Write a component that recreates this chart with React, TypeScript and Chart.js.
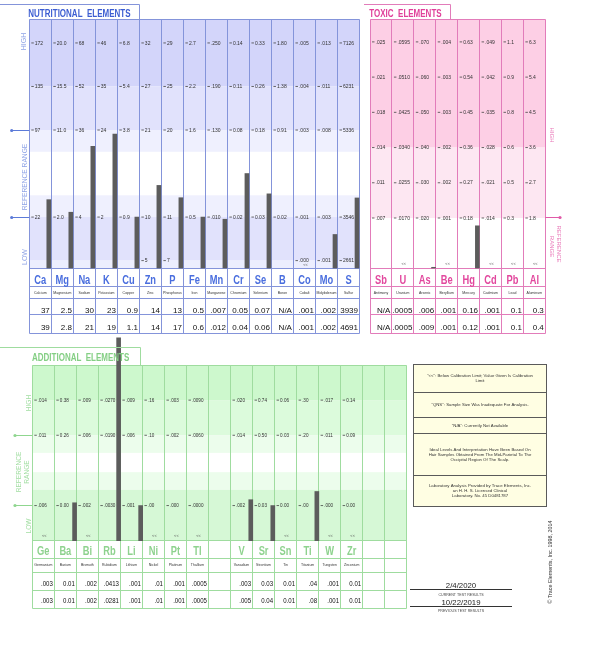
import React, { useEffect, useRef } from "react";
import { Chart, registerables } from "chart.js";
Chart.register(...registerables);

// ================= NUTRITIONAL ELEMENTS =================
const nutriSymbols = ["Ca", "Mg", "Na", "K", "Cu", "Zn", "P", "Fe", "Mn", "Cr", "Se", "B", "Co", "Mo", "S"];
const nutriNames = ["Calcium", "Magnesium", "Sodium", "Potassium", "Copper", "Zinc", "Phosphorus", "Iron", "Manganese", "Chromium", "Selenium", "Boron", "Cobalt", "Molybdenum", "Sulfur"];
const nutriTick5 = ["172", "20.0", "68", "46", "6.8", "32", "29", "2.7", ".250", "0.14", "0.33", "1.80", ".005", ".013", "7126"];
const nutriTick4 = ["135", "15.5", "52", "35", "5.4", "27", "25", "2.2", ".190", "0.11", "0.26", "1.38", ".004", ".011", "6231"];
const nutriTick3 = ["97", "11.0", "36", "24", "3.8", "21", "20", "1.6", ".130", "0.08", "0.18", "0.91", ".003", ".008", "5336"];
const nutriTick1 = ["22", "2.0", "4", "2", "0.9", "10", "11", "0.5", ".010", "0.02", "0.03", "0.02", ".001", ".003", "3546"];
const nutriTick0 = [null, null, null, null, null, "5", "7", null, null, null, null, null, ".000", ".001", "2661"];
const nutriCurrent = ["37", "2.5", "30", "23", "0.9", "14", "13", "0.5", ".007", "0.05", "0.07", "N/A", ".001", ".002", "3939"];
const nutriPrevious = ["39", "2.8", "21", "19", "1.1", "14", "17", "0.6", ".012", "0.04", "0.06", "N/A", ".001", ".002", "4691"];
const nutriBelowLimit = [false, false, false, false, false, false, false, false, false, false, false, false, true, false, false];

// ================= TOXIC ELEMENTS =================
const toxicSymbols = ["Sb", "U", "As", "Be", "Hg", "Cd", "Pb", "Al"];
const toxicNames = ["Antimony", "Uranium", "Arsenic", "Beryllium", "Mercury", "Cadmium", "Lead", "Aluminum"];
const toxicTick5 = [".025", ".0595", ".070", ".004", "0.63", ".049", "1.1", "6.3"];
const toxicTick4 = [".021", ".0510", ".060", ".003", "0.54", ".042", "0.9", "5.4"];
const toxicTick3 = [".018", ".0425", ".050", ".003", "0.45", ".035", "0.8", "4.5"];
const toxicTick2 = [".014", ".0340", ".040", ".002", "0.36", ".028", "0.6", "3.6"];
const toxicTick1 = [".011", ".0255", ".030", ".002", "0.27", ".021", "0.5", "2.7"];
const toxicTick0 = [".007", ".0170", ".020", ".001", "0.18", ".014", "0.3", "1.8"];
const toxicCurrent = ["N/A", ".0005", ".006", ".001", "0.16", ".001", "0.1", "0.3"];
const toxicPrevious = ["N/A", ".0005", ".009", ".001", "0.12", ".001", "0.1", "0.4"];
const toxicBelowLimit = [false, true, false, true, false, true, true, true];

// ================= ADDITIONAL ELEMENTS =================
const addSymbols = ["Ge", "Ba", "Bi", "Rb", "Li", "Ni", "Pt", "Tl", "", "V", "Sr", "Sn", "Ti", "W", "Zr", "", ""];
const addNames = ["Germanium", "Barium", "Bismuth", "Rubidium", "Lithium", "Nickel", "Platinum", "Thallium", "", "Vanadium", "Strontium", "Tin", "Titanium", "Tungsten", "Zirconium", "", ""];
const addTick4 = [".014", "0.38", ".009", ".0270", ".009", ".16", ".003", ".0090", null, ".020", "0.74", "0.06", ".30", ".017", "0.14", null, null];
const addTick3 = [".011", "0.26", ".006", ".0190", ".006", ".10", ".002", ".0060", null, ".014", "0.50", "0.03", ".20", ".011", "0.09", null, null];
const addTick1 = [".006", "0.00", ".002", ".0030", ".001", ".00", ".000", ".0000", null, ".002", "0.03", "0.00", ".00", ".000", "0.00", null, null];
const addCurrent = [".003", "0.01", ".002", ".0413", ".001", ".01", ".001", ".0005", "", ".003", "0.03", "0.01", ".04", ".001", "0.01", "", ""];
const addPrevious = [".003", "0.01", ".002", ".0281", ".001", ".01", ".001", ".0005", "", ".005", "0.04", "0.01", ".08", ".001", "0.01", "", ""];
const addBelowLimit = [true, false, true, false, false, true, true, true, false, false, false, true, false, true, true, false, false];

// ================= NOTES / DATES =================
const noteRows = [
  ["\"<<\": Below Calibration Limit; Value Given Is Calibration", "Limit"],
  ["\"QNS\": Sample Size Was Inadequate For Analysis."],
  ["\"N/A\": Currently Not Available"],
  ["Ideal Levels And Interpretation Have Been Based On", "Hair Samples Obtained From The Mid-Parietal To The", "Occipital Region Of The Scalp."],
  ["Laboratory Analysis Provided by Trace Elements, Inc.", "an H. H. S. Licensed Clinical", "Laboratory. No. 45 D0481787"],
];
const currentDate = "2/4/2020";
const previousDate = "10/22/2019";
const copyright = "\u00A9 Trace Elements, Inc. 1998, 2014";

// ---------------- helpers ----------------
const num = (s: string | null) => (s == null ? NaN : parseFloat(s));
const FONT = 'Arial, "Liberation Sans", sans-serif';

function txt(ctx: CanvasRenderingContext2D, s: string, x: number, y: number, o: any) {
  ctx.save();
  ctx.translate(x, y);
  if (o.rot) ctx.rotate(o.rot);
  if (o.sx) ctx.scale(o.sx, 1);
  ctx.font = `${o.bold ? "bold " : ""}${o.size}px ${FONT}`;
  ctx.fillStyle = o.color || "#222";
  ctx.textAlign = o.align || "left";
  ctx.textBaseline = o.base || "alphabetic";
  ctx.fillText(s, 0, 0);
  ctx.restore();
}
function seg(ctx: CanvasRenderingContext2D, x1: number, y1: number, x2: number, y2: number) {
  ctx.beginPath();
  ctx.moveTo(x1, y1);
  ctx.lineTo(x2, y2);
  ctx.stroke();
}
const snap = (v: number) => Math.round(v - 0.5) + 0.5;
function dotLine(ctx: CanvasRenderingContext2D, x1: number, x2: number, y: number, color: string, dotX: number) {
  ctx.save();
  ctx.strokeStyle = color;
  ctx.fillStyle = color;
  ctx.lineWidth = 1;
  seg(ctx, x1, snap(y), x2, snap(y));
  ctx.beginPath();
  ctx.arc(dotX, snap(y), 1.6, 0, Math.PI * 2);
  ctx.fill();
  ctx.restore();
}

// bar levels (common level scale) derived from results and each column's own ticks
const nutriLevels = nutriCurrent.map((s, i) => {
  const v = num(s);
  if (isNaN(v) || nutriBelowLimit[i]) return null;
  const lo = num(nutriTick1[i]);
  const hi = num(nutriTick5[i]);
  return 1 + (v - lo) / ((hi - lo) / 4);
});
const toxicLevels = toxicCurrent.map((s, i) => {
  const v = num(s);
  if (isNaN(v) || toxicBelowLimit[i]) return null;
  const lo = num(toxicTick0[i]);
  const hi = num(toxicTick5[i]);
  return (v - lo) / ((hi - lo) / 5);
});
const addLevels = addCurrent.map((s, i) => {
  const v = num(s);
  if (isNaN(v) || addBelowLimit[i] || addTick1[i] == null) return null;
  const lo = num(addTick1[i]);
  const hi = num(addTick4[i]);
  return 1 + (v - lo) / ((hi - lo) / 3);
});

const NUTRI_LINE = "#8494da";
const TOXIC_LINE = "#e27cba";
const ADD_LINE = "#9fdc9f";

const nutriPanel: any = {
  id: "nutri",
  left: 0, top: 0, width: 362, height: 340,
  pad: { left: 29.3, top: 19, right: 362 - 359.5, bottom: 340 - 268 },
  n: 15, yMin: -0.17, yMax: 5.55,
  bands: [[4, 9, "#d3d5fa"], [3, 4, "#e1e2fc"], [2.5, 3, "#eff0fe"], [1, 1.5, "#eff0fe"], [0, 1, "#e1e2fc"], [-1, 0, "#eceefe"]],
  tickRows: [[5, nutriTick5], [4, nutriTick4], [3, nutriTick3], [1, nutriTick1], [0, nutriTick0]],
  symbols: nutriSymbols, names: nutriNames, current: nutriCurrent, previous: nutriPrevious,
  below: nutriBelowLimit, belowOff: 3,
  levels: nutriLevels, barOffset: 0.886, barCap: 99,
  line: NUTRI_LINE, symColor: "#4a6ede",
  rows: [18.7, 30.3, 46.3, 65.3],
  symBase: 16, nameMid: 24.6, curBase: 44.5, prevBase: 62,
  resFont: 8, resSx: 1, tickFont: 5,
  decorate(ctx: CanvasRenderingContext2D, ys: (v: number) => number) {
    ctx.strokeStyle = NUTRI_LINE;
    ctx.lineWidth = 1;
    seg(ctx, 0, 4.5, 139.5, 4.5);
    seg(ctx, 139.5, 4.5, 139.5, 19);
    txt(ctx, "NUTRITIONAL  ELEMENTS", 28.3, 17.3, { size: 10, bold: true, color: "#3d5ed2", sx: 0.8 });
    const c = "#8fa4e6";
    txt(ctx, "HIGH", 24.5, 41.5, { size: 7, color: c, rot: -Math.PI / 2, align: "center", base: "middle" });
    txt(ctx, "REFERENCE RANGE", 25, 177, { size: 7, color: c, rot: -Math.PI / 2, align: "center", base: "middle", sx: 0.95 });
    txt(ctx, "LOW", 25, 257, { size: 7, color: c, rot: -Math.PI / 2, align: "center", base: "middle" });
    dotLine(ctx, 11.7, 29.3, ys(3), "#5b7ad8", 11.7);
    dotLine(ctx, 11.7, 29.3, ys(1), "#5b7ad8", 11.7);
  },
};

const toxicPanel: any = {
  id: "toxic",
  left: 362, top: 0, width: 238, height: 340,
  pad: { left: 370 - 362, top: 19, right: 600 - 545.3, bottom: 340 - 268 },
  n: 8, yMin: -1.42, yMax: 5.65,
  bands: [[2, 9, "#fdcfe5"], [0, 2, "#fde7f2"]],
  tickRows: [[5, toxicTick5], [4, toxicTick4], [3, toxicTick3], [2, toxicTick2], [1, toxicTick1], [0, toxicTick0]],
  symbols: toxicSymbols, names: toxicNames, current: toxicCurrent, previous: toxicPrevious,
  below: toxicBelowLimit, belowOff: 4,
  levels: toxicLevels, barOffset: 0.9, barCap: 99,
  line: TOXIC_LINE, symColor: "#e2489e",
  rows: [18.7, 30.3, 46.3, 65.3],
  symBase: 16, nameMid: 24.6, curBase: 44.5, prevBase: 62,
  resFont: 8, resSx: 1, tickFont: 5,
  decorate(ctx: CanvasRenderingContext2D, ys: (v: number) => number) {
    ctx.strokeStyle = TOXIC_LINE;
    ctx.lineWidth = 1;
    seg(ctx, 364, 4.5, 450.5, 4.5);
    seg(ctx, 450.5, 4.5, 450.5, 19);
    txt(ctx, "TOXIC  ELEMENTS", 369.3, 17.3, { size: 10, bold: true, color: "#e0409a", sx: 0.8 });
    const c = "#e97ab9";
    txt(ctx, "HIGH", 551.5, 135, { size: 6, color: c, rot: Math.PI / 2, align: "center", base: "middle" });
    txt(ctx, "REFERENCE", 559, 244, { size: 6, color: c, rot: Math.PI / 2, align: "center", base: "middle" });
    txt(ctx, "RANGE", 551.5, 246.5, { size: 6, color: c, rot: Math.PI / 2, align: "center", base: "middle" });
    dotLine(ctx, 545.3, 560, ys(0), "#e05aa8", 560);
  },
};

const addPanel: any = {
  id: "add",
  left: 0, top: 330, width: 600, height: 326,
  pad: { left: 32.3, top: 365 - 330, right: 600 - 406.7, bottom: 656 - 540.7 },
  n: 17, yMin: 0, yMax: 5,
  bands: [[4, 9, "#cdf8cd"], [3, 4, "#dcfbdc"], [2.5, 3, "#ecfdec"], [1.45, 1.95, "#ecfdec"], [0, 1.45, "#d6f8d6"]],
  tickRows: [[4, addTick4], [3, addTick3], [1, addTick1]],
  symbols: addSymbols, names: addNames, current: addCurrent, previous: addPrevious,
  below: addBelowLimit, belowOff: 4.5,
  levels: addLevels, barOffset: 0.92, barCap: 5.77,
  line: ADD_LINE, symColor: "#8ed28e",
  rows: [17.6, 31.6, 49.3, 67.3],
  symBase: 14.3, nameMid: 24.5, curBase: 45.3, prevBase: 62.6,
  resFont: 7.6, resSx: 0.8, tickFont: 4.6,
  decorate(ctx: CanvasRenderingContext2D, ys: (v: number) => number) {
    ctx.strokeStyle = ADD_LINE;
    ctx.lineWidth = 1;
    seg(ctx, 0, 347.5, 140.5, 347.5);
    seg(ctx, 140.5, 347.5, 140.5, 365);
    txt(ctx, "ADDITIONAL  ELEMENTS", 32, 360.8, { size: 10, bold: true, color: "#84cf84", sx: 0.8 });
    const c = "#a3dea3";
    txt(ctx, "HIGH", 29.5, 403, { size: 6.6, color: c, rot: -Math.PI / 2, align: "center", base: "middle" });
    txt(ctx, "REFERENCE", 19.5, 472, { size: 6.6, color: c, rot: -Math.PI / 2, align: "center", base: "middle" });
    txt(ctx, "RANGE", 27.5, 472, { size: 6.6, color: c, rot: -Math.PI / 2, align: "center", base: "middle" });
    txt(ctx, "LOW", 29.5, 526, { size: 6.6, color: c, rot: -Math.PI / 2, align: "center", base: "middle" });
    dotLine(ctx, 15, 32.3, ys(3), "#8fd68f", 15);
    dotLine(ctx, 15, 32.3, ys(1), "#8fd68f", 15);

    // notes box
    const bx = 413.5, by = 364.5, bw = 133, bh = 142;
    ctx.fillStyle = "#fffee3";
    ctx.fillRect(bx, by, bw, bh);
    ctx.strokeStyle = "#5a5a5a";
    ctx.strokeRect(bx, by, bw, bh);
    const seps = [392.5, 417.5, 433.5, 475.5];
    seps.forEach((sy) => seg(ctx, bx, sy, bx + bw, sy));
    const edges = [by, ...seps, by + bh];
    noteRows.forEach((lines, r) => {
      const mid = (edges[r] + edges[r + 1]) / 2;
      lines.forEach((l, k) => {
        const yy = mid + (k - (lines.length - 1) / 2) * 5;
        txt(ctx, l, bx + bw / 2, yy, { size: 4.3, color: "#333", align: "center", base: "middle" });
      });
    });

    // dates
    ctx.strokeStyle = "#333";
    txt(ctx, currentDate, 461, 587.8, { size: 7.8, color: "#222", align: "center" });
    seg(ctx, 410, 589.5, 512, 589.5);
    txt(ctx, "CURRENT TEST RESULTS", 461, 595, { size: 3.6, color: "#444", align: "center", base: "middle" });
    txt(ctx, previousDate, 461, 604.8, { size: 7.8, color: "#222", align: "center" });
    seg(ctx, 410, 606.5, 512, 606.5);
    txt(ctx, "PREVIOUS TEST RESULTS", 461, 611, { size: 3.6, color: "#444", align: "center", base: "middle" });

    txt(ctx, copyright, 550.5, 562, { size: 5.4, color: "#333", rot: -Math.PI / 2, align: "center", base: "middle" });
  },
};

function panelPlugin(p: any) {
  return {
    id: "panel-" + p.id,
    beforeDatasetsDraw(chart: any) {
      const { ctx, chartArea: a } = chart;
      const xs = chart.scales.x, ys = chart.scales.y;
      ctx.save();
      for (const [f, t, c] of p.bands) {
        const y1 = ys.getPixelForValue(Math.min(t, p.yMax));
        const y2 = ys.getPixelForValue(Math.max(f, p.yMin));
        ctx.fillStyle = c;
        ctx.fillRect(a.left, y1, a.right - a.left, y2 - y1);
      }
      ctx.strokeStyle = p.line;
      ctx.lineWidth = 1;
      const bottom = a.bottom + p.rows[p.rows.length - 1];
      for (let i = 0; i <= p.n; i++) {
        const px = snap(xs.getPixelForValue(i));
        seg(ctx, px, snap(a.top), px, snap(bottom));
      }
      const right = snap(xs.getPixelForValue(p.n));
      const left = snap(xs.getPixelForValue(0));
      seg(ctx, left, snap(a.top), right, snap(a.top));
      for (const off of [0, ...p.rows]) {
        const py = snap(a.bottom + off);
        seg(ctx, left, py, right, py);
      }
      ctx.restore();
    },
    afterDatasetsDraw(chart: any) {
      const { ctx, chartArea: a } = chart;
      const xs = chart.scales.x, ys = chart.scales.y;
      ctx.save();
      ctx.strokeStyle = "#444";
      ctx.lineWidth = 0.8;
      for (const [lv, labels] of p.tickRows) {
        const y = ys.getPixelForValue(lv);
        labels.forEach((lab: string | null, i: number) => {
          if (lab == null) return;
          const x0 = xs.getPixelForValue(i);
          seg(ctx, x0 + 2, y, x0 + 4.5, y);
          txt(ctx, lab, x0 + 5.5, y + 0.3, { size: p.tickFont, color: "#333", base: "middle" });
        });
      }
      for (let i = 0; i < p.n; i++) {
        const xl = xs.getPixelForValue(i), xr = xs.getPixelForValue(i + 1);
        const xc = (xl + xr) / 2;
        if (p.below[i]) txt(ctx, "<<", xc + 1, a.bottom - p.belowOff, { size: 4, color: "#555", align: "center", base: "middle" });
        if (p.symbols[i]) txt(ctx, p.symbols[i], xc, a.bottom + p.symBase, { size: 12.6, bold: true, color: p.symColor, align: "center", sx: 0.74 });
        if (p.names[i]) txt(ctx, p.names[i], xc, a.bottom + p.nameMid, { size: 3.5, color: "#333", align: "center", base: "middle" });
        if (p.current[i]) txt(ctx, p.current[i], xr - 1.5, a.bottom + p.curBase, { size: p.resFont, color: "#111", align: "right", sx: p.resSx });
        if (p.previous[i]) txt(ctx, p.previous[i], xr - 1.5, a.bottom + p.prevBase, { size: p.resFont, color: "#111", align: "right", sx: p.resSx });
      }
      ctx.restore();
    },
    afterDraw(chart: any) {
      const ctx = chart.ctx;
      const ys = (v: number) => chart.scales.y.getPixelForValue(v) + p.top;
      ctx.save();
      ctx.translate(-p.left, -p.top);
      p.decorate(ctx, ys);
      ctx.restore();
    },
  };
}

function build(canvas: HTMLCanvasElement, p: any) {
  const data = p.levels
    .map((lv: number | null, i: number) => (lv == null ? null : { x: i + p.barOffset, y: [p.yMin, Math.min(lv, p.barCap)] }))
    .filter((d: any) => d);
  return new Chart(canvas, {
    type: "bar",
    data: {
      datasets: [
        {
          data,
          backgroundColor: "#5c5c5c",
          borderWidth: 0,
          barThickness: 4,
          clip: false as any,
        } as any,
      ],
    },
    options: {
      animation: false,
      responsive: false,
      maintainAspectRatio: false,
      events: [],
      layout: { padding: p.pad },
      plugins: { legend: { display: false }, tooltip: { enabled: false }, title: { display: false } },
      scales: {
        x: { type: "linear", min: 0, max: p.n, offset: false, display: false, grid: { offset: false } as any },
        y: { type: "linear", min: p.yMin, max: p.yMax, display: false, beginAtZero: false },
      },
    } as any,
    plugins: [panelPlugin(p)],
  });
}

const panels = [nutriPanel, toxicPanel, addPanel];

export default function App() {
  const r0 = useRef<HTMLCanvasElement>(null);
  const r1 = useRef<HTMLCanvasElement>(null);
  const r2 = useRef<HTMLCanvasElement>(null);
  const refs = [r0, r1, r2];
  useEffect(() => {
    const charts = panels.map((p, k) => build(refs[k].current as HTMLCanvasElement, p));
    return () => charts.forEach((c) => c.destroy());
  }, []);
  return (
    <div style={{ position: "absolute", left: 0, top: 0, width: 600, height: 656, background: "#fff", overflow: "hidden" }}>
      {panels.map((p, k) => (
        <canvas
          key={p.id}
          ref={refs[k]}
          width={p.width}
          height={p.height}
          style={{ position: "absolute", left: p.left, top: p.top, width: p.width, height: p.height }}
        />
      ))}
    </div>
  );
}
